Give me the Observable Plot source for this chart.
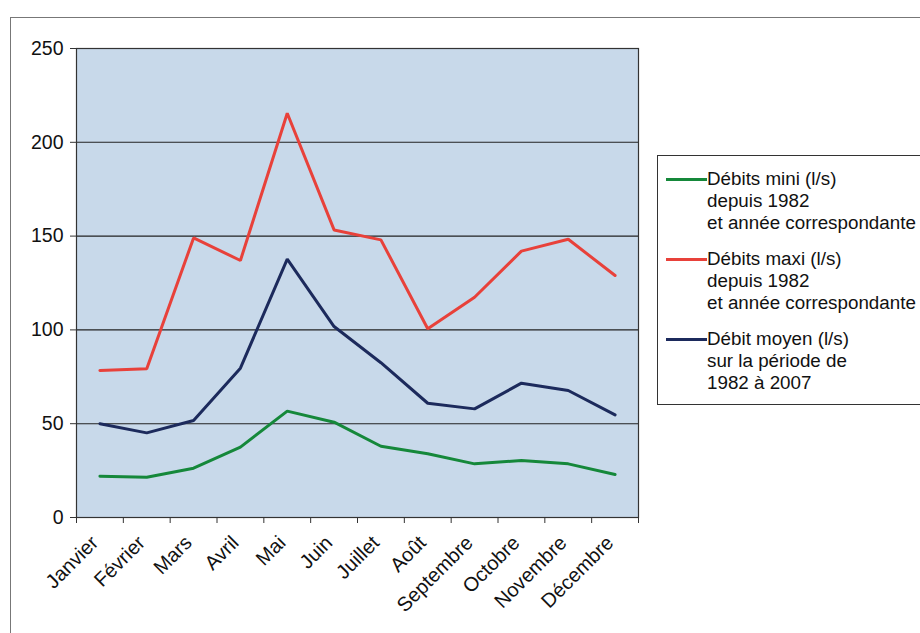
<!DOCTYPE html>
<html>
<head>
<meta charset="utf-8">
<script src="https://cdn.jsdelivr.net/npm/d3@7"></script>
<script src="https://cdn.jsdelivr.net/npm/@observablehq/plot@0.6"></script>
<style>
  html, body { margin: 0; padding: 0; background: #fff; }
  #wrap { position: relative; width: 920px; height: 633px; overflow: hidden; font-family: "Liberation Sans", Arial, sans-serif; }
  #frame { position: absolute; left: 10px; top: 17px; width: 940px; height: 660px; border-left: 1.5px solid #777; border-top: 1.5px solid #777; box-sizing: border-box; }
  #chart { position: absolute; left: 0; top: 0; }
  #legend { position: absolute; left: 657px; top: 155px; width: 300px; height: 250px; border: 1px solid #333; box-sizing: border-box; background: #fff; padding-top: 12px; }
  .entry { position: relative; padding-left: 49px; font-size: 18.8px; line-height: 22px; color: #111; margin-bottom: 14px; white-space: nowrap; }
  .swatch { position: absolute; left: 8px; top: 10px; width: 41px; height: 3px; }
</style>
</head>
<body>
<div id="wrap">
  <div id="frame"></div>
  <div id="chart"></div>
  <div id="legend"></div>
</div>
<script>
const months = ["Janvier", "Février", "Mars", "Avril", "Mai", "Juin", "Juillet", "Août", "Septembre", "Octobre", "Novembre", "Décembre"];
const debitsMini  = [22, 21.5, 26.3, 37.5, 56.7, 50.8, 38, 34, 28.6, 30.4, 28.6, 22.9];
const debitsMaxi  = [78.4, 79.3, 149, 137, 215.5, 153.3, 148, 100.6, 117.4, 142, 148.3, 129];
const debitMoyen  = [50, 45.1, 51.7, 79.6, 137.7, 101.8, 82.5, 60.9, 57.9, 71.6, 67.7, 54.7];
const yTicks = [0, 50, 100, 150, 200, 250];

const seriesNames = [
  ["Débits mini (l/s)", "depuis 1982", "et année correspondante"],
  ["Débits maxi (l/s)", "depuis 1982", "et année correspondante"],
  ["Débit moyen (l/s)", "sur la période de", "1982 à 2007"]
];
const seriesColors = ["#15883a", "#e8413a", "#1c2a5c"];
const seriesValues = [debitsMini, debitsMaxi, debitMoyen];

const rows = [];
seriesValues.forEach((vals, s) => vals.forEach((v, i) => rows.push({s, i, v})));

const boundaries = months.map((_, i) => i - 0.5).concat([months.length - 0.5]);

const chart = Plot.plot({
  width: 920,
  height: 633,
  marginLeft: 76,
  marginRight: 282,
  marginTop: 48,
  marginBottom: 116,
  style: { fontFamily: "Liberation Sans, Arial, sans-serif", background: "transparent", color: "#111" },
  x: { domain: [-0.5, months.length - 0.5], axis: null },
  y: { domain: [0, 250], axis: null },
  marks: [
    Plot.frame({ fill: "#c8d9ea" }),
    Plot.ruleY(yTicks, { stroke: "#222", strokeWidth: 1.1 }),
    Plot.frame({ stroke: "#333", strokeWidth: 1.2 }),
    Plot.axisY({ ticks: yTicks, tickSize: 6, tickPadding: 7, fontSize: 19.5, label: null, stroke: "#333" }),
    Plot.axisX({ ticks: boundaries, tickFormat: () => "", tickSize: 6, label: null, stroke: "#333" }),
    Plot.axisX({ ticks: d3.range(months.length), tickFormat: i => months[i], tickSize: 0, tickPadding: 22, dx: -5, tickRotate: -45, fontSize: 20, label: null }),
    ...seriesValues.map((_, s) =>
      Plot.line(rows.filter(r => r.s === s), { x: "i", y: "v", stroke: seriesColors[s], strokeWidth: 3, strokeLinejoin: "miter" })
    )
  ]
});
document.getElementById("chart").appendChild(chart);

const legend = document.getElementById("legend");
seriesNames.forEach((lines, s) => {
  const e = document.createElement("div");
  e.className = "entry";
  const sw = document.createElement("div");
  sw.className = "swatch";
  sw.style.background = seriesColors[s];
  e.appendChild(sw);
  lines.forEach(t => {
    const l = document.createElement("div");
    l.textContent = t;
    e.appendChild(l);
  });
  legend.appendChild(e);
});
</script>
</body>
</html>
